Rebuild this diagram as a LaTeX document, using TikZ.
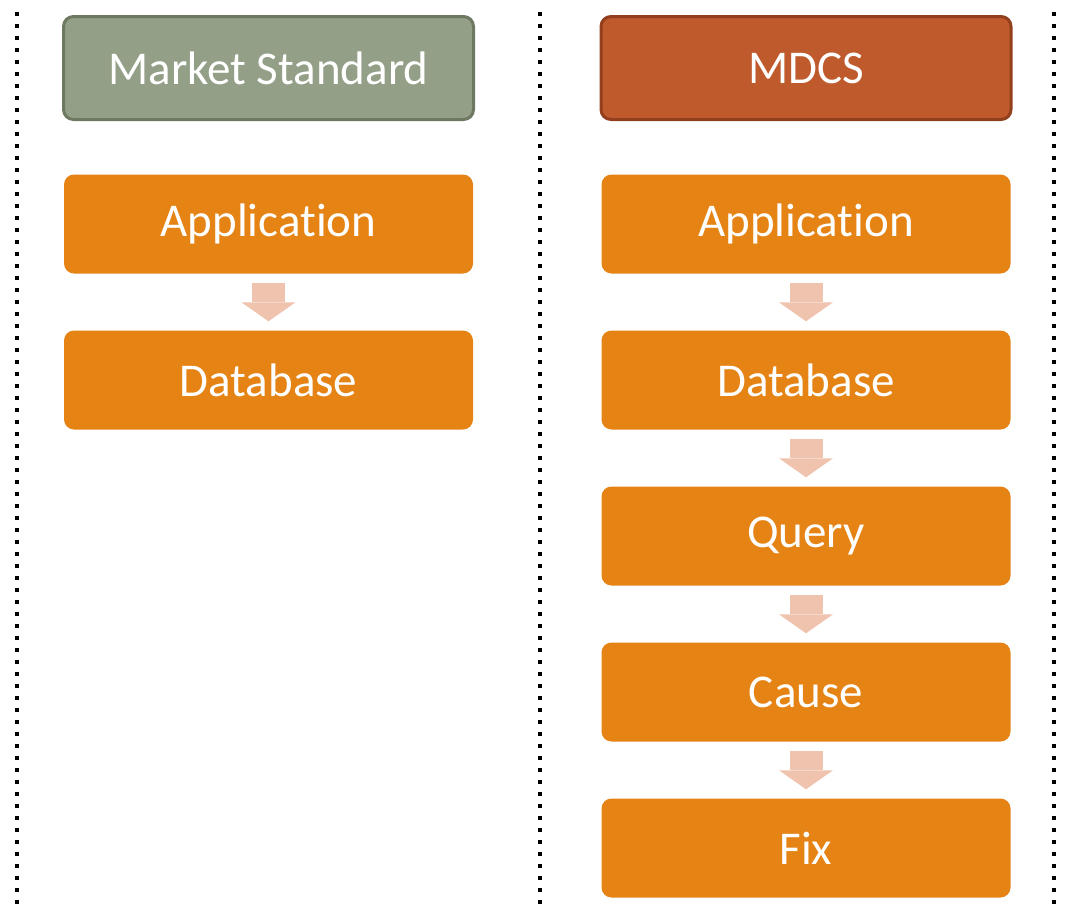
\documentclass[tikz,border=0pt]{standalone}
\usepackage{fontspec}
\setmainfont[Ligatures={NoCommon}]{Carlito}
\usetikzlibrary{positioning, arrows.meta}
\definecolor{sage}{HTML}{949F87}
\definecolor{sagedark}{HTML}{6E7962}
\definecolor{rust}{HTML}{BE5A2C}
\definecolor{rustdark}{HTML}{923F1D}
\definecolor{steporange}{HTML}{E58314}
\definecolor{flowpink}{HTML}{F0C3AE}

\begin{document}
\begin{tikzpicture}[x=1pt,y=-1pt,node distance=156pt,
    box/.style={rectangle, rounded corners=10pt, fill=steporange, text=white,
        minimum width=409pt, minimum height=99pt, inner sep=0pt,
        font=\fontsize{47}{56}\selectfont},
    head/.style={box, fill=#1, minimum width=410pt, minimum height=103pt, line width=3pt},
    flow/.style={line width=33pt, color=flowpink, shorten <=9pt, shorten >=9pt,
        -{Triangle[length=19pt, width=54pt, line width=0pt]}},
    dots/.style={line width=4pt, dash pattern=on 4pt off 8pt}]
                \useasboundingbox (0,0) rectangle (1069,911);
                % columns
                \foreach \x in {17,540,1054}
                    \draw[dots] (\x,12) -- (\x,911);
                % market standard
                \node[head=sage, draw=sagedark] (ms) at (268.5,68) {Market Standard};
                \node[box] (msapp) [below of = ms] {Application};
                \node[box] (msdb) [below of = msapp] {Database};
                % mdcs
                \node[head=rust, draw=rustdark] (mdcs) at (806,68) {MDCS};
                \node[box] (app) [below of = mdcs] {Application};
                \node[box] (db) [below of = app] {Database};
                \node[box] (query) [below of = db] {Query};
                \node[box] (cause) [below of = query] {Cause};
                \node[box] (fix) [below of = cause] {Fix};
                \path[flow]
                (msapp) edge (msdb)
                (app) edge (db)
                (db) edge (query)
                (query) edge (cause)
                (cause) edge (fix)
                ;

            \end{tikzpicture}
\end{document}
